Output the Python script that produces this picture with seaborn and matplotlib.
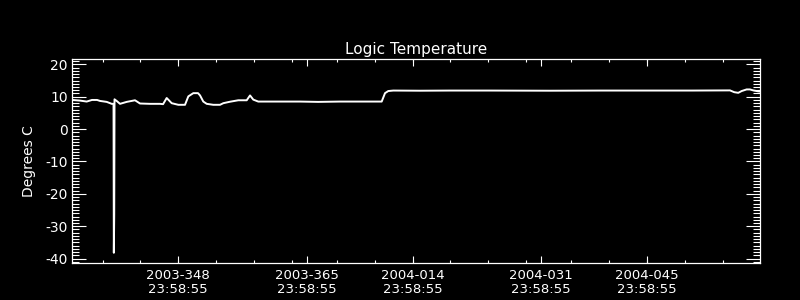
import matplotlib
matplotlib.use("Agg")
import matplotlib.pyplot as plt
from matplotlib.ticker import FixedLocator, MultipleLocator
import seaborn as sns
import pandas as pd

# Time axis: days since 2003-12-01 00:00 UT
days = [0.0, 1.02, 1.90, 2.60, 3.27, 3.66, 4.55, 5.21, 5.45, 5.49, 5.54, 5.58,
        5.91, 6.31, 7.19, 8.29, 8.95, 10.27, 11.60, 12.00, 12.48, 13.14, 14.02,
        14.90, 15.34, 16.00, 16.62, 16.89, 17.32, 17.77, 18.64, 19.53, 19.97,
        20.85, 21.95, 23.06, 23.50, 23.93, 24.59, 27.0, 30.11, 32.5, 35.4, 38.0,
        40.91, 41.35, 41.78, 42.44, 46.0, 49.94, 55.0, 63.17, 70.0, 76.39,
        82.0, 86.97, 87.53, 88.06, 88.51, 89.17, 89.61, 90.04, 90.70, 91.0]
temps = [9.0, 8.8, 8.5, 9.0, 9.0, 8.7, 8.4, 7.8, 7.8, -38.2, -26.5, 9.2,
         8.6, 7.8, 8.4, 8.9, 7.9, 7.8, 7.8, 7.7, 9.6, 8.0, 7.5,
         7.5, 10.1, 11.1, 11.1, 10.4, 8.5, 7.8, 7.5, 7.5, 8.0,
         8.45, 8.9, 8.9, 10.4, 9.1, 8.5, 8.5, 8.5, 8.4, 8.5, 8.5,
         8.5, 11.1, 11.75, 11.9, 11.85, 11.9, 11.9, 11.85, 11.9, 11.9,
         11.9, 11.95, 11.4, 11.2, 11.75, 12.25, 12.25, 11.95, 11.65, 11.6]

major_ticks = [13.999, 30.999, 44.999, 61.999, 75.999]
major_labels = ["2003-348\n23:58:55", "2003-365\n23:58:55", "2004-014\n23:58:55",
                "2004-031\n23:58:55", "2004-045\n23:58:55"]
minor_ticks = [4, 9, 14, 19, 24, 29, 35, 40, 45, 50, 55, 60, 66, 71, 76, 81, 86]
y_ticks = [-40, -30, -20, -10, 0, 10, 20]

sns.set_style("dark", rc={
    "axes.facecolor": "black", "figure.facecolor": "black",
    "axes.edgecolor": "white", "text.color": "white",
    "axes.labelcolor": "white", "xtick.color": "white", "ytick.color": "white",
    "axes.grid": False,
})
plt.rcParams["font.family"] = ["DejaVu Sans"]

df = pd.DataFrame({"day": days, "temp": temps})

fig = plt.figure(figsize=(8, 3), dpi=100)
ax = fig.add_axes([0.0904, 0.1223, 0.9506 - 0.0904, 0.8023 - 0.1223])
sns.lineplot(data=df, x="day", y="temp", color="white", linewidth=1.4,
             estimator=None, sort=False, ax=ax)

ax.set_xlim(0, 91)
ax.set_ylim(-41.45, 21.55)
ax.xaxis.set_major_locator(FixedLocator(major_ticks))
ax.set_xticklabels(major_labels, fontsize=9.5, linespacing=1.1)
ax.xaxis.set_minor_locator(FixedLocator(minor_ticks))
ax.yaxis.set_major_locator(FixedLocator(y_ticks))
ax.yaxis.set_minor_locator(MultipleLocator(1))
ax.set_yticklabels([str(v) for v in y_ticks], fontsize=10)

ax.tick_params(axis="x", which="major", direction="in", length=4.7, width=0.8,
               top=True, bottom=True, pad=4)
ax.tick_params(axis="x", which="minor", direction="in", length=2.2, width=0.8,
               top=True, bottom=True)
ax.tick_params(axis="y", which="major", direction="in", length=10, width=0.8,
               left=True, right=True, pad=3.3)
ax.tick_params(axis="y", which="minor", direction="in", length=5, width=0.8,
               left=True, right=True)
for s in ax.spines.values():
    s.set_color("white")
    s.set_linewidth(0.9)

ax.set_xlabel("")
ax.set_ylabel("Degrees C", fontsize=10, labelpad=7)
ax.set_title("Logic Temperature", fontsize=11, color="white", pad=4)

fig.savefig("out.png", dpi=100, facecolor="black")
